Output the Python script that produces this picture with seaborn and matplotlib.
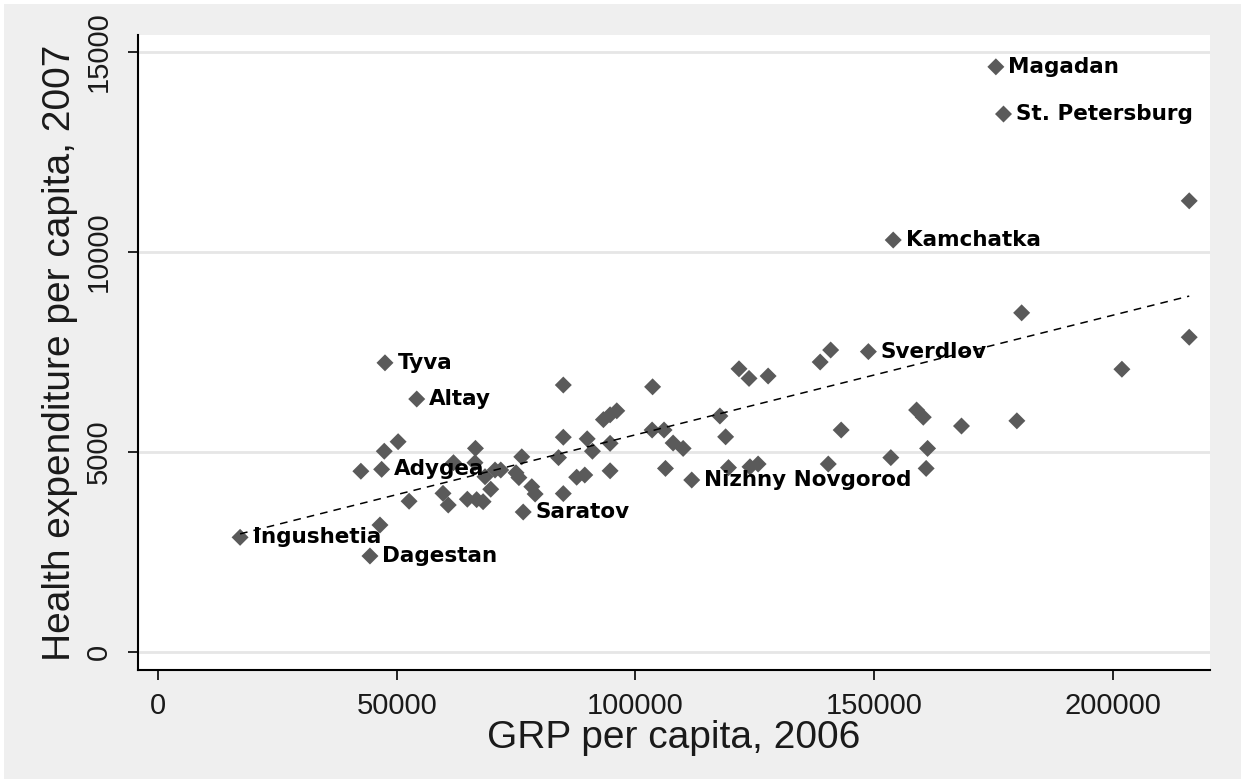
import matplotlib
matplotlib.use('Agg')
import matplotlib.pyplot as plt
import seaborn as sns
import numpy as np
import pandas as pd

# Labelled regions: GRP per capita 2006, health expenditure per capita 2007
labeled_names = ['Magadan', 'St. Petersburg', 'Kamchatka', 'Sverdlov', 'Tyva',
                 'Altay', 'Adygea', 'Ingushetia', 'Dagestan', 'Saratov',
                 'Nizhny Novgorod']
labeled_grp = [175500, 177100, 154000, 148800, 47550,
               54200, 46850, 17200, 44400, 76500,
               111800]
labeled_health = [14630, 13450, 10300, 7510, 7230,
                  6325, 4567, 2867, 2400, 3500,
                  4300]

# Remaining regions (unlabelled)
other_grp = [216000, 180900, 216000, 201900, 158900, 160300, 168300, 179900,
             161200, 153500, 160900, 140900, 138700, 121700, 123800, 127800,
             117700, 118900, 143100, 140400, 119500, 124000, 125700, 84900,
             103600, 96100, 94700, 93300, 84900, 89900, 91000, 94700,
             103500, 106000, 107900, 110000, 76200, 83900, 71800, 75000,
             75600, 78300, 79000, 84900, 87700, 89400, 94700, 106300,
             50300, 47400, 42500, 66500, 61900, 66400, 68500, 70600,
             59700, 60800, 64800, 66750, 68100, 69700, 52600, 46500]
other_health = [11280, 8480, 7870, 7070, 6050, 5870, 5650, 5780,
                5090, 4860, 4590, 7550, 7250, 7080, 6840, 6900,
                5900, 5380, 5550, 4700, 4610, 4630, 4700, 6675,
                6630, 6030, 5930, 5810, 5370, 5330, 5020, 5217,
                5550, 5550, 5225, 5090, 4880, 4860, 4550, 4480,
                4360, 4133, 3950, 3960, 4370, 4425, 4530, 4590,
                5258, 5020, 4520, 5092, 4733, 4733, 4383, 4550,
                3967, 3675, 3820, 3810, 3758, 4070, 3770, 3175]

x_ticks = [0, 50000, 100000, 150000, 200000]
y_ticks = [0, 5000, 10000, 15000]

df = pd.DataFrame({
    'grp': labeled_grp + other_grp,
    'health': labeled_health + other_health,
    'name': labeled_names + [''] * len(other_grp),
})

sns.set_theme(style='white')
plt.rcParams['font.family'] = ['Liberation Sans', 'DejaVu Sans']

fig = plt.figure(figsize=(12.44, 7.82), dpi=100, facecolor='#efefef')
fig.patch.set_edgecolor('white')
fig.patch.set_linewidth(5)
ax = fig.add_axes([0.1109, 0.1432, 0.8618, 0.812])
ax.set_facecolor('white')

for y in y_ticks:
    ax.axhline(y, color='#e6e6e6', lw=2, zorder=0)

sns.scatterplot(data=df, x='grp', y='health', marker='D', s=75,
                color='#5a5a5a', edgecolor='none', ax=ax, zorder=3)
sns.regplot(data=df, x='grp', y='health', scatter=False, ci=None, ax=ax,
            line_kws=dict(color='black', lw=1.1, ls=(0, (5, 4)), zorder=4))

for name, gx, hy in zip(labeled_names, labeled_grp, labeled_health):
    ax.annotate(name, (gx, hy), xytext=(9, 0), textcoords='offset points',
                va='center', ha='left', fontsize=15.5, fontweight='bold',
                family=['DejaVu Sans'], color='black', zorder=5)

ax.set_xlim(-4190, 220360)
ax.set_ylim(-450, 15425)
ax.set_xticks(x_ticks)
ax.set_yticks(y_ticks)
ax.set_xticklabels([str(v) for v in x_ticks])
ax.set_yticklabels([str(v) for v in y_ticks], rotation=90, va='center')
ax.tick_params(axis='both', which='major', direction='out', length=7,
               width=1.2, color='black', labelsize=21, labelcolor='#1a1a1a',
               bottom=True, left=True)
ax.tick_params(axis='x', pad=9)
ax.tick_params(axis='y', pad=11)

for side in ['top', 'right']:
    ax.spines[side].set_visible(False)
for side in ['left', 'bottom']:
    ax.spines[side].set_color('black')
    ax.spines[side].set_linewidth(1.5)

ax.set_xlabel('GRP per capita, 2006', fontsize=28, labelpad=0, color='#1a1a1a')
ax.set_ylabel('Health expenditure per capita, 2007', fontsize=28, labelpad=5,
              color='#1a1a1a')
ax.grid(False)

fig.savefig('out.png', dpi=100, facecolor=fig.get_facecolor(),
            edgecolor=fig.get_edgecolor())
